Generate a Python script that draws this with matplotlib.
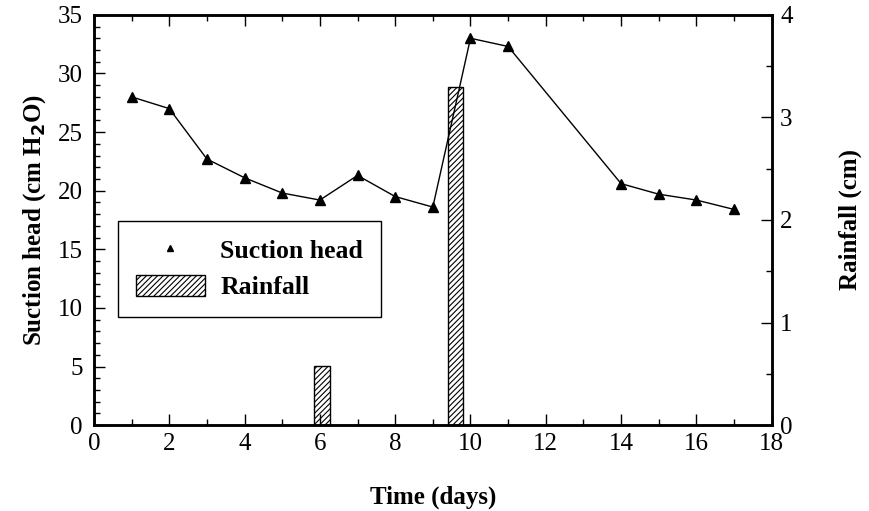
import matplotlib.pyplot as plt
from matplotlib.ticker import MultipleLocator
from matplotlib.lines import Line2D
from matplotlib.patches import Patch

plt.rcParams['font.family'] = ['Liberation Serif', 'DejaVu Serif']
plt.rcParams['hatch.linewidth'] = 0.8

# suction head readings
days = [1, 2, 3, 4, 5, 6, 7, 8, 9, 10, 11, 14, 15, 16, 17]
suction = [28.0, 27.0, 22.7, 21.1, 19.8, 19.2, 21.3, 19.5, 18.6, 33.0, 32.3, 20.6, 19.7, 19.2, 18.4]

# rainfall events
rain_days = [6.05, 9.6]
rain_cm = [0.58, 3.3]

fig = plt.figure(figsize=(8.7, 5.11), dpi=100)
ax = fig.add_axes([0.108, 0.168, 0.779, 0.803])
ax2 = ax.twinx()

ax2.bar(rain_days, rain_cm, width=0.42, color='white', edgecolor='black',
        hatch='//////', linewidth=1)
ax.plot(days, suction, color='black', linewidth=1, marker='^', markersize=7)

# line on top of the bars
ax.set_zorder(ax2.get_zorder() + 1)
ax.patch.set_visible(False)

ax.set_xlim(0, 18)
ax.set_ylim(0, 35)
ax2.set_ylim(0, 4)

ax.xaxis.set_major_locator(MultipleLocator(2))
ax.xaxis.set_minor_locator(MultipleLocator(1))
ax.yaxis.set_major_locator(MultipleLocator(5))
ax.yaxis.set_minor_locator(MultipleLocator(1))
ax2.yaxis.set_major_locator(MultipleLocator(1))
ax2.yaxis.set_minor_locator(MultipleLocator(0.5))

ax.tick_params(which='both', direction='in', top=True, right=False, labelsize=18)
ax.tick_params(which='major', length=8, width=1)
ax.tick_params(which='minor', length=4, width=1)
ax.tick_params(axis='x', pad=6)
ax.tick_params(axis='y', pad=8)
ax2.tick_params(which='both', direction='in', labelsize=18, pad=6)
ax2.tick_params(which='major', length=8, width=1)
ax2.tick_params(which='minor', length=4, width=1)

for a in (ax, ax2):
    for s in a.spines.values():
        s.set_linewidth(1.8)

ax.set_xlabel('Time (days)', fontsize=18, fontweight='bold', labelpad=22)
ax.set_ylabel('Suction head (cm H$_\\mathbf{2}$O)', fontsize=18, fontweight='bold', labelpad=7)
ax2.set_ylabel('Rainfall (cm)', fontsize=18, fontweight='bold', labelpad=33)

handles = [Line2D([], [], color='black', marker='^', markersize=5, linestyle='none'),
           Patch(facecolor='white', edgecolor='black', hatch='//////')]
leg = ax.legend(handles, ['Suction head', 'Rainfall'], loc='lower left',
                bbox_to_anchor=(0.035, 0.263), fancybox=False, framealpha=1,
                edgecolor='black', prop={'weight': 'bold', 'size': 18.5},
                handlelength=2.7, handleheight=0.9, borderpad=0.7, labelspacing=0.45,
                handletextpad=0.6, borderaxespad=0)
leg.get_frame().set_linewidth(1)

fig.savefig('out.png', dpi=100)
